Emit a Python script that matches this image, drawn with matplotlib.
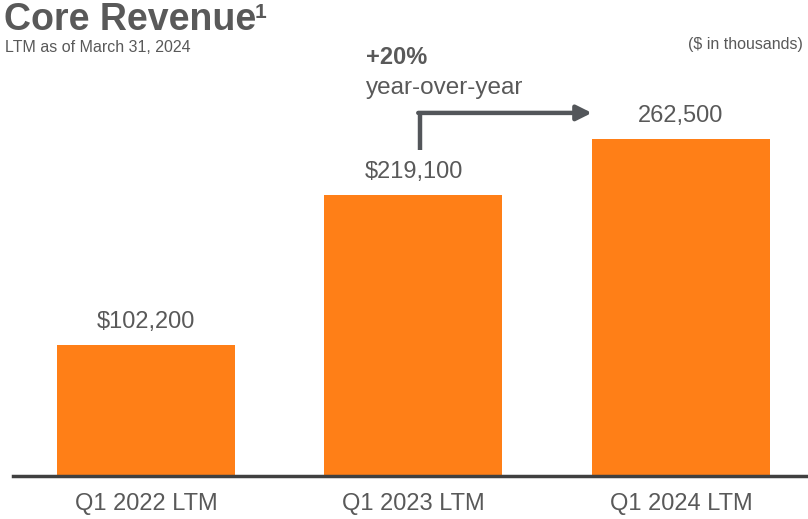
import matplotlib.pyplot as plt

# data
categories = ["Q1 2022 LTM", "Q1 2023 LTM", "Q1 2024 LTM"]
revenue = [102.2, 219.1, 262.5]  # $ thousands (in 000s)
value_labels = ["$102,200", "$219,100", "262,500"]

ORANGE = "#FF7F17"
GREY = "#595959"
DARK = "#404040"
ARROW = "#53565A"

plt.rcParams["font.family"] = ["Liberation Sans", "DejaVu Sans"]

fig = plt.figure(figsize=(8.08, 5.19), dpi=100)
ax = fig.add_axes([13 / 808, (519 - 476) / 519, 1 - 13 / 808, 476 / 519])

x = range(len(categories))
ax.bar(x, revenue, width=0.665, color=ORANGE, zorder=2)
ax.set_xlim(-0.497, 2.475)
ax.set_ylim(0, 476 / 1.283)

for xi, v, lab in zip(x, revenue, value_labels):
    ax.annotate(lab, (xi, v), xytext=(0, 8.5), textcoords="offset points",
                ha="center", va="bottom", fontsize=17, color=GREY)

for s in ["top", "right", "left"]:
    ax.spines[s].set_visible(False)
ax.spines["bottom"].set_color(DARK)
ax.spines["bottom"].set_linewidth(2.5)
ax.set_yticks([])
ax.set_xticks(list(x))
ax.set_xticklabels(categories, fontsize=17, color=GREY)
ax.tick_params(axis="x", length=0, pad=12)

# growth arrow from bar 2 to bar 3
ax.plot([1.024, 1.024], [254, 283], color=ARROW, lw=3.2, solid_capstyle="butt",
        zorder=3)
ax.annotate("", xy=(1.667, 283), xytext=(1.018, 283),
            arrowprops=dict(arrowstyle="-|>,head_length=0.9,head_width=0.45",
                            color=ARROW, lw=3.2, shrinkA=0, shrinkB=0))
fig.text(366 / 808, 1 - 58 / 519, "+20%", fontsize=17, fontweight="bold",
         color=GREY, va="center", ha="left")
fig.text(366 / 808, 1 - 88 / 519, "year-over-year", fontsize=17.5,
         color=GREY, va="center", ha="left")

# titles
fig.text(4 / 808, 1 - 20 / 519, "Core Revenue", fontsize=27,
         fontweight="bold", color=GREY, va="center", ha="left")
fig.text(255 / 808, 1 - 12 / 519, "1", fontsize=15,
         fontweight="bold", color=GREY, va="center", ha="left")
fig.text(5 / 808, 1 - 48 / 519, "LTM as of March 31, 2024", fontsize=11.5,
         color=GREY, va="center", ha="left")
fig.text(803 / 808, 1 - 44 / 519, "($ in thousands)", fontsize=11.5,
         color=GREY, va="center", ha="right")

fig.savefig("out.png", dpi=100)
